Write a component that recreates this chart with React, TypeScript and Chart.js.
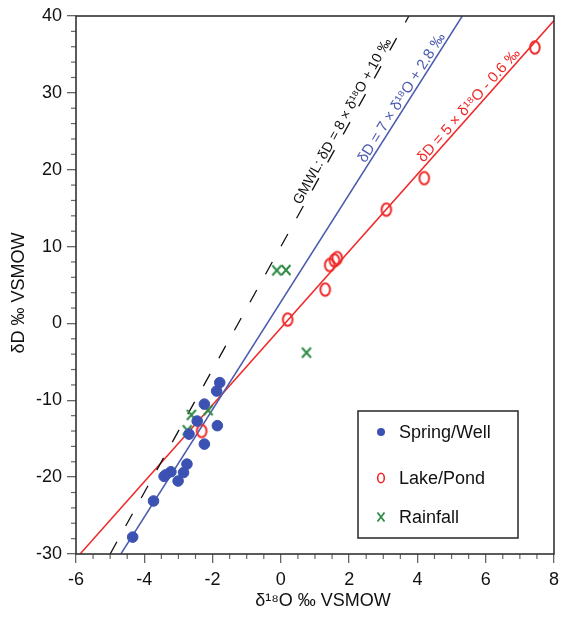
import React, { useEffect, useRef } from 'react';
import { Chart, registerables } from 'chart.js';
Chart.register(...registerables);

// ---- data ----
const springWellX = [-1.79, -1.88, -2.24, -2.45, -1.86, -2.69, -2.24, -2.75, -2.85, -3.22, -3.37, -3.42, -3.01, -3.73, -4.34];
const springWellY = [-7.7, -8.8, -10.5, -12.7, -13.3, -14.4, -15.7, -18.3, -19.4, -19.3, -19.7, -19.9, -20.5, -23.1, -27.8];
const lakePondX = [-2.32, 0.2, 1.3, 1.43, 1.57, 1.65, 3.09, 4.2, 7.44];
const lakePondY = [-14.0, 0.5, 4.4, 7.6, 8.2, 8.5, 14.8, 18.9, 35.9];
const rainfallX = [-0.12, 0.15, 0.75, -2.62, -2.74, -2.13];
const rainfallY = [6.9, 6.95, -3.8, -11.9, -13.9, -11.3];

const lineSlopes = [8, 7, 5];
const lineIntercepts = [10, 2.8, -0.6];
const lineLabels = ['GMWL: δD = 8 × δ¹⁸O + 10 ‰', 'δD = 7 × δ¹⁸O + 2.8 ‰', 'δD = 5 × δ¹⁸O - 0.6 ‰'];
const lineLabelStartY = [15.2, 20.6, 20.6];
const lineLabelFontSize = [14, 15, 15];
const lineColors = ['#111111', '#4a5aae', '#f02828'];
const lineDashes = [[14, 18], [], []];

const xMin = -6, xMax = 8, yMin = -30, yMax = 40;
const xMajorStep = 2, xMinorStep = 0.5;
const yMajorStep = 10, yMinorStep = 2;

const xTitle = 'δ¹⁸O ‰ VSMOW';
const yTitle = 'δD ‰ VSMOW';
const legendLabels = ['Spring/Well', 'Lake/Pond', 'Rainfall'];

const BLUE = '#3b52b2';
const RED = '#f02828';
const GREEN = '#2e8b45';
const FONT = '"Liberation Sans", Arial, sans-serif';

function toPts(xs: number[], ys: number[]) {
  return xs.map((x, i) => ({ x, y: ys[i] }));
}

function lineEnds(m: number, b: number) {
  let x0 = (yMin - b) / m, x1 = (yMax - b) / m;
  x0 = Math.max(xMin, x0);
  x1 = Math.min(xMax, x1);
  return [{ x: x0, y: m * x0 + b }, { x: x1, y: m * x1 + b }];
}

function makeRingStyle() {
  const c = document.createElement('canvas');
  c.width = 14; c.height = 17;
  const g = c.getContext('2d')!;
  g.strokeStyle = RED; g.lineWidth = 2;
  g.beginPath(); g.ellipse(7, 8.5, 4.8, 6.3, 0, 0, Math.PI * 2); g.stroke();
  return c;
}

function makeCrossStyle() {
  const c = document.createElement('canvas');
  c.width = 14; c.height = 14;
  const g = c.getContext('2d')!;
  g.strokeStyle = GREEN; g.lineWidth = 2;
  g.beginPath();
  g.moveTo(2.5, 2); g.lineTo(11.5, 12);
  g.moveTo(11.5, 2); g.lineTo(2.5, 12);
  g.stroke();
  return c;
}

const decorPlugin = {
  id: 'decor',
  afterDraw(chart: any) {
    const { ctx, chartArea: ca, scales } = chart;
    const xs = scales.x, ys = scales.y;
    ctx.save();
    // minor ticks
    ctx.strokeStyle = '#666'; ctx.lineWidth = 1.2;
    for (let v = xMin; v <= xMax + 1e-9; v += xMinorStep) {
      if (Math.abs(v / xMajorStep - Math.round(v / xMajorStep)) < 1e-6) continue;
      const px = xs.getPixelForValue(v);
      ctx.beginPath(); ctx.moveTo(px, ca.bottom); ctx.lineTo(px, ca.bottom + 5); ctx.stroke();
    }
    for (let v = yMin; v <= yMax + 1e-9; v += yMinorStep) {
      if (Math.abs(v / yMajorStep - Math.round(v / yMajorStep)) < 1e-6) continue;
      const py = ys.getPixelForValue(v);
      ctx.beginPath(); ctx.moveTo(ca.left, py); ctx.lineTo(ca.left - 5, py); ctx.stroke();
    }
    // frame
    ctx.strokeStyle = '#333'; ctx.lineWidth = 1.6;
    ctx.strokeRect(ca.left, ca.top, ca.right - ca.left, ca.bottom - ca.top);

    // line labels
    ctx.textAlign = 'left'; ctx.textBaseline = 'alphabetic';
    lineSlopes.forEach((m, i) => {
      const b = lineIntercepts[i];
      const y0 = lineLabelStartY[i], x0 = (y0 - b) / m;
      const y1 = y0 + 5, x1 = (y1 - b) / m;
      const p0x = xs.getPixelForValue(x0), p0y = ys.getPixelForValue(y0);
      const p1x = xs.getPixelForValue(x1), p1y = ys.getPixelForValue(y1);
      const ang = Math.atan2(p1y - p0y, p1x - p0x);
      ctx.save();
      ctx.font = `${lineLabelFontSize[i]}px ${FONT}`;
      ctx.translate(p0x, p0y);
      ctx.rotate(ang);
      ctx.fillStyle = lineColors[i];
      ctx.fillText(lineLabels[i], 0, -3);
      ctx.restore();
    });

    // axis titles
    ctx.fillStyle = '#111';
    ctx.font = `18px ${FONT}`;
    ctx.textAlign = 'center'; ctx.textBaseline = 'middle';
    ctx.fillText(xTitle, (ca.left + ca.right) / 2 + 8, ca.bottom + 47);
    ctx.save();
    ctx.translate(19, (ca.top + ca.bottom) / 2 + 8);
    ctx.rotate(-Math.PI / 2);
    ctx.fillText(yTitle, 0, 0);
    ctx.restore();

    // legend
    const lw = 160, lh = 127;
    const lx = ca.right - 36 - lw, ly = ca.bottom - 16 - lh;
    ctx.fillStyle = '#fff';
    ctx.fillRect(lx, ly, lw, lh);
    ctx.strokeStyle = '#333'; ctx.lineWidth = 1.6;
    ctx.strokeRect(lx, ly, lw, lh);
    const rows = [21, 67, 106];
    ctx.font = `18px ${FONT}`;
    ctx.textAlign = 'left'; ctx.textBaseline = 'middle';
    rows.forEach((ry, i) => {
      const mx = lx + 23, my = ly + ry;
      if (i === 0) {
        ctx.fillStyle = BLUE; ctx.beginPath(); ctx.arc(mx, my, 4, 0, Math.PI * 2); ctx.fill();
      } else if (i === 1) {
        ctx.strokeStyle = RED; ctx.lineWidth = 1.6; ctx.beginPath(); ctx.ellipse(mx, my, 3.3, 4.8, 0, 0, Math.PI * 2); ctx.stroke();
      } else {
        ctx.strokeStyle = GREEN; ctx.lineWidth = 1.8; ctx.beginPath();
        ctx.moveTo(mx - 3.5, my - 4.5); ctx.lineTo(mx + 3.5, my + 4.5);
        ctx.moveTo(mx + 3.5, my - 4.5); ctx.lineTo(mx - 3.5, my + 4.5); ctx.stroke();
      }
      ctx.fillStyle = '#111';
      ctx.fillText(legendLabels[i], lx + 41, my + 1);
    });
    ctx.restore();
  },
};

export default function App() {
  const ref = useRef<HTMLCanvasElement>(null);
  useEffect(() => {
    document.body.style.margin = '0';
    const ring = makeRingStyle();
    const cross = makeCrossStyle();
    const lineSets = lineSlopes.map((m, i) => ({
      type: 'line' as const,
      label: 'line' + i,
      data: lineEnds(m, lineIntercepts[i]),
      borderColor: lineColors[i],
      borderWidth: i === 0 ? 1.3 : 1.5,
      borderDash: lineDashes[i],
      pointRadius: 0,
      fill: false,
      order: 10,
    }));
    const chart = new Chart(ref.current!, {
      type: 'scatter',
      data: {
        datasets: [
          {
            label: legendLabels[0], data: toPts(springWellX, springWellY),
            backgroundColor: BLUE, borderColor: BLUE, pointRadius: 5.3, pointStyle: 'circle', order: 1,
          },
          {
            label: legendLabels[1], data: toPts(lakePondX, lakePondY),
            pointStyle: ring as any, pointRadius: 6, order: 1,
          },
          {
            label: legendLabels[2], data: toPts(rainfallX, rainfallY),
            pointStyle: cross as any, pointRadius: 6, order: 1,
          },
          ...lineSets,
        ] as any,
      },
      options: {
        animation: false,
        responsive: false,
        layout: { padding: { top: 16, right: 7, left: 0, bottom: 0 } },
        plugins: { legend: { display: false }, tooltip: { enabled: false } },
        scales: {
          x: {
            type: 'linear', min: xMin, max: xMax,
            ticks: { stepSize: xMajorStep, color: '#111', font: { family: FONT, size: 18 }, padding: 6 },
            grid: { drawOnChartArea: false, drawTicks: true, tickLength: 9, color: '#666', lineWidth: 1.3 },
            border: { display: false },
            afterFit: (s: any) => { s.height = 63; },
          },
          y: {
            type: 'linear', min: yMin, max: yMax,
            ticks: { stepSize: yMajorStep, color: '#111', font: { family: FONT, size: 18 }, padding: 5 },
            grid: { drawOnChartArea: false, drawTicks: true, tickLength: 9, color: '#666', lineWidth: 1.3 },
            border: { display: false },
            afterFit: (s: any) => { s.width = 76; },
          },
        },
      } as any,
      plugins: [decorPlugin],
    });
    return () => chart.destroy();
  }, []);
  return (
    <div style={{ width: 565, height: 617 }}>
      <canvas ref={ref} width={565} height={617} style={{ display: 'block' }} />
    </div>
  );
}
